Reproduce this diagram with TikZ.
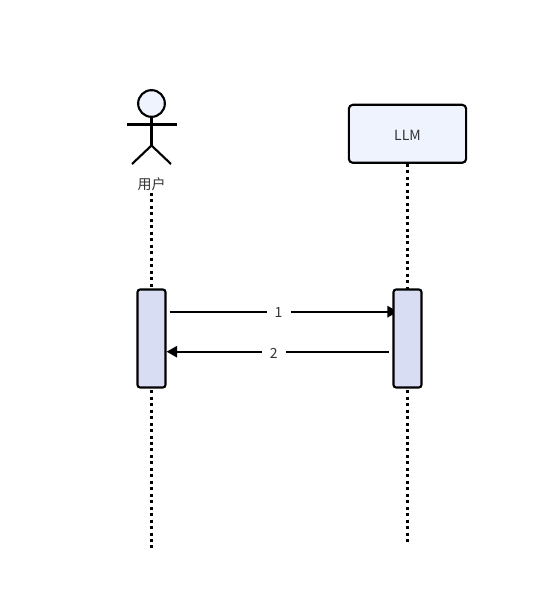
\documentclass[tikz,border=0pt]{standalone}
\usepackage{fontspec}
\setmainfont{Noto Sans CJK SC}
\usetikzlibrary{arrows.meta}
\definecolor{headfill}{HTML}{EEF3FD}
\definecolor{actfill}{HTML}{D8DDF3}
\tikzset{
  lineink/.style={draw=black,line width=1.6pt},
  lifeline/.style={draw=black,line width=1.65pt,dash pattern=on 2.25pt off 2.6pt},
  actorbox/.style={lineink,fill=headfill,rounded corners=3pt,minimum width=88pt,minimum height=43.5pt,inner sep=0pt,text=black!80,font=\fontsize{10.5pt}{12pt}\selectfont},
  activation/.style={lineink,fill=actfill,rounded corners=2pt,minimum width=21pt,minimum height=73.5pt,inner sep=0pt},
  head/.style={lineink,fill=headfill,circle,minimum size=20pt,inner sep=0pt},
  msglabel/.style={text=black!80,inner sep=0pt,font=\fontsize{10.5pt}{12pt}\selectfont},
  msg/.style={draw=black,line width=1.6pt},
  tip/.style={-{Triangle[length=8pt,width=8.5pt]}}
}
\begin{document}
\begin{tikzpicture}[x=0.75pt,y=-0.75pt]
\useasboundingbox (0,0) rectangle (559,604);
% stick figure
\node[head] (head) at (151.5,103.5) {};
\coordinate (neck) at (head.south);
\coordinate (armL) at (127,124.5);
\coordinate (armR) at (176.5,124.5);
\coordinate (hip) at (151.5,145.5);
\coordinate (legL) at (132,164);
\coordinate (legR) at (171,164);
\draw[lineink] (neck) -- (hip);
\draw[lineink] (armL) -- (armR);
\draw[lineink,line join=round] (legL) -- (hip) -- (legR);
\node[msglabel] (user) at (151.5,184) {用户};
% LLM
\node[actorbox] (llm) at (407.5,133.8) {\raisebox{-4.7pt}[0pt][0pt]{LLM}};
% lifelines
\coordinate (uTop) at (151.5,193);
\coordinate (uBot) at (151.5,548.5);
\coordinate (lBot) at (407.5,543.5);
\coordinate (actUc) at (151.5,338.5);
\coordinate (actLc) at (407.5,338.5);
\draw[lifeline] (uTop) -- (actUc);
\draw[lifeline] (actUc) -- (uBot);
\draw[lifeline] (llm.south) -- (actLc);
\draw[lifeline] (actLc) -- (lBot);
% messages
\node[msglabel] (m1) at (278.5,313) {1};
\node[msglabel] (m2) at (273.8,353) {2};
\coordinate (m1s) at (169.5,311.7);
\coordinate (m1a) at (266.5,311.7);
\coordinate (m1b) at (290.5,311.7);
\coordinate (m1e) at (398,311.7);
\coordinate (m2s) at (389,351.7);
\coordinate (m2a) at (285.5,351.7);
\coordinate (m2b) at (261.5,351.7);
\draw[msg] (m1s) -- (m1a);
\draw[msg,tip] (m1b) -- (m1e);
\draw[msg] (m2s) -- (m2a);
% activations
\node[activation] (actU) at (actUc) {};
\node[activation] (actL) at (actLc) {};
\draw[msg,tip] (m2b) -- (actU.east |- m2b);
\end{tikzpicture}
\end{document}
